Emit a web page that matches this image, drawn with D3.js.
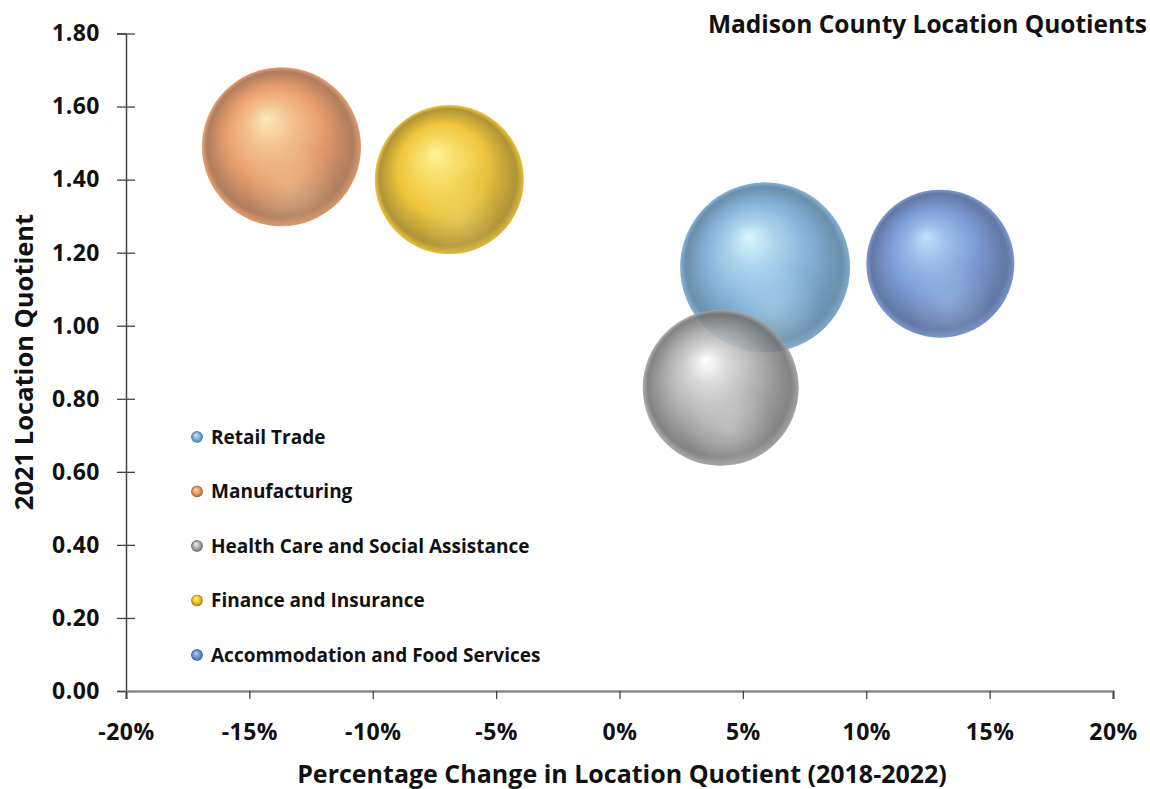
<!DOCTYPE html>
<html>
<head>
<meta charset="utf-8">
<script src="https://cdn.jsdelivr.net/npm/d3@7"></script>
<style>
  body { margin: 0; background: #fff; }
  text { font-family: "Open Sans", Lato, sans-serif; font-weight: bold; fill: #111; }
</style>
</head>
<body>
<div id="chart"></div>
<script>
// data
var industries = ["Retail Trade", "Manufacturing", "Health Care and Social Assistance", "Finance and Insurance", "Accommodation and Food Services"];
var pctChange = [0.059, -0.137, 0.041, -0.069, 0.130];
var locQuotient = [1.16, 1.49, 0.83, 1.40, 1.17];
var bubbleSize = [7225, 6320, 6084, 5550, 5476];
var xTicks = [-0.20, -0.15, -0.10, -0.05, 0, 0.05, 0.10, 0.15, 0.20];
var yTicks = [0, 0.2, 0.4, 0.6, 0.8, 1.0, 1.2, 1.4, 1.6, 1.8];

// base / highlight / shade per series
var baseColors = ["#78abd8", "#e8935c", "#a6a6a6", "#efbf22", "#6a8ed0"];
var lightColors = ["#d4f6ff", "#ffe6b0", "#ffffff", "#fff48a", "#b8dcff"];
var darkColors = ["#55809f", "#a56c48", "#727272", "#a5851c", "#4e6698"];

function init() {
    var w = 1150, h = 789;

    var svg = d3.select("#chart").append("svg")
        .attr("width", w)
        .attr("height", h);

    var xScale = d3.scaleLinear().domain([-0.20, 0.20]).range([126, 1113]);
    var yScale = d3.scaleLinear().domain([0, 1.8]).range([691, 33.5]);
    var rScale = d3.scaleSqrt().domain([0, d3.max(bubbleSize)]).range([0, 85]);

    // sphere gradients
    var defs = svg.append("defs");
    industries.forEach(function(d, i) {
        var mid = d3.interpolateRgb(lightColors[i], baseColors[i])(0.5);
        var g = defs.append("radialGradient")
            .attr("id", "sph" + i)
            .attr("cx", "0.5").attr("cy", "0.5").attr("r", "0.5")
            .attr("fx", "0.4").attr("fy", "0.32");
        g.append("stop").attr("offset", "0").attr("stop-color", lightColors[i]);
        g.append("stop").attr("offset", "0.25").attr("stop-color", mid);
        g.append("stop").attr("offset", "0.6").attr("stop-color", baseColors[i]);
        g.append("stop").attr("offset", "0.92").attr("stop-color", darkColors[i]);
        g.append("stop").attr("offset", "1").attr("stop-color", baseColors[i]);

        // darker lower-right side
        var s = defs.append("linearGradient")
            .attr("id", "shd" + i)
            .attr("x1", "0.2").attr("y1", "0.1").attr("x2", "0.9").attr("y2", "0.9");
        s.append("stop").attr("offset", "0.45").attr("stop-color", darkColors[i]).attr("stop-opacity", 0);
        s.append("stop").attr("offset", "1").attr("stop-color", darkColors[i]).attr("stop-opacity", 0.35);

        // soft reflected light near bottom
        var r = defs.append("radialGradient")
            .attr("id", "ref" + i)
            .attr("cx", "0.56").attr("cy", "0.76").attr("r", "0.28");
        r.append("stop").attr("offset", "0").attr("stop-color", lightColors[i]).attr("stop-opacity", 0.3);
        r.append("stop").attr("offset", "1").attr("stop-color", lightColors[i]).attr("stop-opacity", 0);
    });

    // axes
    var yAxis = d3.axisLeft(yScale).tickValues(yTicks).tickFormat(d3.format(".2f")).tickSize(9).tickPadding(17);
    var gy = svg.append("g").attr("class", "axis").attr("transform", "translate(126,0)").call(yAxis);
    gy.select(".domain").attr("stroke", "#444").attr("stroke-width", 1.5);
    gy.selectAll(".tick line").attr("x1", -9).attr("x2", 9).attr("stroke", "#444").attr("stroke-width", 1.3);
    gy.selectAll(".tick text").style("font-size", "23px").style("letter-spacing", "0.5px").attr("fill", "#111");

    var xAxis = d3.axisBottom(xScale).tickValues(xTicks)
        .tickFormat(function(d) { return d3.format(".0%")(d).replace("\u2212", "-"); })
        .tickSize(8).tickPadding(25);
    var gx = svg.append("g").attr("class", "axis").attr("transform", "translate(0,691)").call(xAxis);
    gx.select(".domain").attr("stroke", "#8a8a8a").attr("stroke-width", 2.5);
    gx.selectAll(".tick line").attr("stroke", "#444").attr("stroke-width", 1.3);
    gx.selectAll(".tick text").style("font-size", "23px").style("letter-spacing", "0.5px").attr("fill", "#111");

    // bubbles
    var idx = d3.range(industries.length);
    var bubbles = svg.append("g").selectAll("g").data(idx).enter().append("g").attr("opacity", 0.88);
    ["sph", "shd", "ref"].forEach(function(layer) {
        bubbles.append("circle")
            .attr("cx", function(i) { return xScale(pctChange[i]); })
            .attr("cy", function(i) { return yScale(locQuotient[i]); })
            .attr("r", function(i) { return rScale(bubbleSize[i]); })
            .attr("fill", function(i) { return "url(#" + layer + i + ")"; });
    });

    // legend
    var legend = svg.append("g").selectAll("g").data(idx).enter().append("g")
        .attr("transform", function(i) { return "translate(197," + (437 + i * 54.5) + ")"; });
    legend.append("circle").attr("r", 6).attr("fill", function(i) { return "url(#sph" + i + ")"; });
    legend.append("text").attr("x", 14).attr("dy", "0.35em")
        .style("font-size", "19px")
        .text(function(i) { return industries[i]; });

    // titles
    svg.append("text").attr("x", 1147).attr("y", 33).attr("text-anchor", "end")
        .style("font-size", "24.5px").text("Madison County Location Quotients");
    svg.append("text").attr("x", 622).attr("y", 783).attr("text-anchor", "middle")
        .style("font-size", "25px").text("Percentage Change in Location Quotient (2018-2022)");
    svg.append("text").attr("transform", "translate(33,362) rotate(-90)").attr("text-anchor", "middle")
        .style("font-size", "25.5px").text("2021 Location Quotient");
}
window.onload = init;
</script>
</body>
</html>
